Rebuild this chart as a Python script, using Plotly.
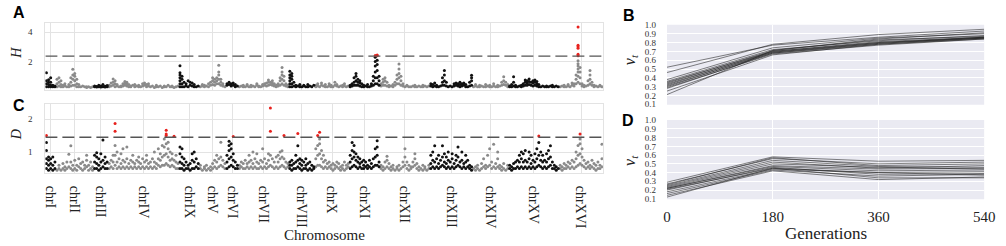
import plotly.graph_objects as go

# ---------------- data ----------------
CHROMS = ["chrI", "chrII", "chrIII", "chrIV", "chrIX", "chrV", "chrVI", "chrVII",
          "chrVIII", "chrX", "chrXI", "chrXII", "chrXIII", "chrXIV", "chrXV", "chrXVI"]
CHROM_LEN_KB = [230, 813, 317, 1532, 440, 577, 270, 1091, 563, 745, 667, 1078, 924, 784, 1091, 948]
H_THRESHOLD = 2.37
D_THRESHOLD = 1.45

# H statistic: per chromosome, columns of values along the chromosome
H_I = [[0.3, 0.5, 0.7, 1.25], [0.3, 0.45, 0.6, 0.77], [0.3, 0.4, 0.6, 0.9], [0.3, 0.4], [0.3, 0.35]]
H_II = [[0.3, 0.5, 0.8], [0.35, 0.6, 0.9], [0.3, 0.45, 0.7], [0.3, 0.4], [0.35, 0.5], [0.3], [0.3, 0.45],
        [0.35, 0.6, 0.9], [0.4, 0.8, 1.1, 1.48], [0.4, 0.7, 1.0, 1.2], [0.3, 0.5, 0.8], [0.3, 0.45], [0.3],
        [0.35], [0.3], [0.25, 0.3], [0.3], [0.25], [0.3]]
H_III = [[0.3, 0.35], [0.28, 0.32], [0.3, 0.4], [0.28, 0.35], [0.3, 0.45], [0.28, 0.33], [0.3, 0.38]]
H_IV = [[0.3, 0.4], [0.35, 0.55], [0.4, 0.6, 0.82], [0.3, 0.5, 0.7], [0.35, 0.45], [0.3], [0.3, 0.35],
        [0.35, 0.5], [0.4, 0.55, 0.65], [0.35, 0.5, 0.6], [0.3, 0.45], [0.3, 0.35], [0.4], [0.3, 0.45],
        [0.35], [0.3, 0.4], [0.3], [0.35, 0.5], [0.4, 0.55], [0.3, 0.45], [0.35, 0.5], [0.3], [0.35],
        [0.25], [0.3, 0.4], [0.3], [0.35], [0.25], [0.3, 0.35], [0.3], [0.4], [0.3], [0.3, 0.35], [0.25],
        [0.3], [0.35]]
H_IX = [[0.3, 0.5, 0.7, 0.9, 1.1, 1.25, 1.72], [0.3, 0.5, 0.8, 1.0], [0.3, 0.6], [0.35, 0.5], [0.3, 0.7],
        [0.4, 0.6], [0.35, 0.55], [0.3, 0.45], [0.3], [0.35]]
H_V = [[0.3], [0.35, 0.45], [0.3, 0.4], [0.35], [0.3, 0.5], [0.4, 0.6], [0.45, 0.7, 0.9], [0.4, 0.6, 0.8],
       [0.5, 0.7, 0.9], [0.5, 0.8, 1.1, 1.3, 1.75], [0.4, 0.6, 0.8], [0.35, 0.5], [0.3]]
H_VI = [[0.4, 0.5], [0.45, 0.6], [0.35, 0.5], [0.4, 0.55], [0.3, 0.45], [0.35]]
H_VII = [[0.3], [0.35], [0.3, 0.4], [0.3], [0.35, 0.45], [0.3], [0.3, 0.4], [0.35], [0.3], [0.4, 0.5],
         [0.3, 0.35], [0.3], [0.35, 0.45], [0.4, 0.5], [0.35, 0.55], [0.4, 0.6, 0.75], [0.45, 0.6],
         [0.4, 0.55, 0.7], [0.35, 0.5], [0.3, 0.4], [0.35, 0.5], [0.4, 0.7, 0.9], [0.5, 0.8, 1.1, 1.3, 1.6],
         [0.4, 0.7, 1.0], [0.35, 0.5], [0.3, 0.4]]
H_VIII = [[0.3, 0.5, 0.7, 0.9, 1.1, 1.35], [0.3, 0.5, 0.8, 1.0, 1.2], [0.35, 0.6], [0.3, 0.4], [0.35],
          [0.3, 0.45], [0.3], [0.35, 0.4], [0.3], [0.3, 0.45], [0.35], [0.3], [0.4]]
H_X = [[0.3, 0.4], [0.35, 0.5], [0.3], [0.4, 0.55], [0.35], [0.3, 0.45], [0.3], [0.35, 0.5], [0.3, 0.4],
       [0.3], [0.4, 0.6], [0.35, 0.45], [0.3], [0.35], [0.3, 0.4], [0.35, 0.5], [0.3], [0.35]]
H_XI = [[0.3, 0.4], [0.35, 0.5], [0.4, 0.6, 0.9], [0.4, 0.7, 1.0, 1.2], [0.4, 0.6, 0.8], [0.35, 0.55, 0.7],
        [0.3, 0.5], [0.3, 0.4], [0.35], [0.3, 0.45], [0.3], [0.35, 0.5], [0.4, 0.7, 1.0],
        [0.5, 0.9, 1.3, 1.7, 2.0, 2.3, 2.42], [0.5, 0.9, 1.4, 1.8, 2.1, 2.4, 2.45], [0.4, 0.7, 1.0]]
H_XII = [[0.35, 0.5], [0.4, 0.6, 0.8], [0.4, 0.7, 0.9], [0.35, 0.6], [0.3, 0.4], [0.35], [0.3, 0.45],
         [0.4, 0.6], [0.5, 0.8, 1.1], [0.5, 0.9, 1.2, 1.5, 1.83], [0.4, 0.7, 1.0], [0.35, 0.5], [0.3],
         [0.35, 0.4], [0.3], [0.3], [0.35], [0.3, 0.4], [0.3], [0.35], [0.3], [0.3, 0.4], [0.35], [0.3],
         [0.35]]
H_XIII = [[0.35, 0.5], [0.3, 0.45], [0.35, 0.55], [0.3, 0.4], [0.3], [0.35], [0.4, 0.6, 0.9],
          [0.4, 0.7, 1.1, 1.4], [0.35, 0.6], [0.3], [0.35], [0.3], [0.35, 0.5], [0.4, 0.55], [0.35, 0.5],
          [0.3, 0.45, 0.6], [0.35, 0.5], [0.4, 0.55], [0.3, 0.45], [0.3], [0.35, 0.6], [0.4, 0.7, 0.9, 1.08]]
H_XIV = [[0.3], [0.35, 0.45], [0.3], [0.3, 0.4], [0.35], [0.3], [0.3, 0.45], [0.35], [0.3, 0.4], [0.3],
         [0.35, 0.5], [0.3], [0.3, 0.4], [0.35], [0.4, 0.6], [0.45, 0.7, 0.97], [0.4, 0.6], [0.3, 0.45]]
H_XV = [[0.3, 0.35], [0.3, 0.45], [0.35, 0.6, 0.97], [0.3, 0.4], [0.3], [0.35], [0.3, 0.4], [0.35, 0.5],
        [0.4, 0.6, 0.75], [0.4, 0.55, 0.7], [0.45, 0.65, 0.82], [0.4, 0.6], [0.35, 0.55, 0.7],
        [0.4, 0.6, 0.75], [0.35, 0.5, 0.65], [0.3, 0.45], [0.3], [0.35], [0.3], [0.3, 0.35], [0.3], [0.35],
        [0.3, 0.4], [0.3], [0.35], [0.3]]
H_XVI = [[0.3], [0.35], [0.3, 0.4], [0.3], [0.35, 0.45], [0.3], [0.4, 0.55], [0.35, 0.5], [0.5, 0.8, 1.1],
         [0.6, 1.0, 1.3, 1.5, 1.7, 1.85, 2.05, 2.4, 2.5, 2.9, 3.0, 3.1, 4.35], [0.5, 0.9, 1.3, 1.6],
         [0.35, 0.5], [0.3, 0.4], [0.35], [0.4, 0.7], [0.5, 0.8, 1.1, 1.4], [0.4, 0.6], [0.3, 0.4], [0.35],
         [0.3], [0.35, 0.4], [0.3]]

# D statistic
D_I = [[0.5, 0.65, 0.8, 1.05, 1.29, 1.5], [0.45, 0.6, 0.75, 0.85], [0.5, 0.65, 0.8], [0.45, 0.6, 0.85],
       [0.5, 0.7]]
D_II = [[0.45], [0.5, 0.6], [0.45], [0.5, 0.65], [0.45, 0.55], [0.5, 0.7], [0.55, 0.93], [0.5, 0.7, 1.19],
        [0.45, 0.6], [0.5, 0.75], [0.45, 0.6], [0.55, 0.8], [0.5, 0.65], [0.45, 0.7], [0.5, 0.6],
        [0.55, 0.75, 0.9], [0.45, 0.6], [0.5, 0.7], [0.45, 0.55]]
D_III = [[0.5, 0.7, 0.9], [0.5, 0.65, 0.85, 0.98], [0.45, 0.6, 0.8], [0.5, 0.7, 0.95], [0.55, 0.75, 1.37],
         [0.5, 0.65, 0.85], [0.5, 0.7]]
D_IV = [[0.5, 0.65], [0.55, 0.75], [0.5, 0.7, 0.9], [0.6, 0.9, 1.2, 1.63, 1.87], [0.5, 0.7, 1.0], [0.55, 0.8],
        [0.5, 0.65, 0.95], [0.55, 0.75, 1.1], [0.5, 0.7], [0.55, 0.8, 1.15], [0.5, 0.65], [0.55, 0.75],
        [0.5, 0.7, 0.9], [0.55, 0.65], [0.5, 0.75], [0.55, 0.7, 0.85], [0.5, 0.65], [0.55, 0.8], [0.5, 0.7],
        [0.55, 0.75, 0.9], [0.5, 0.65], [0.55, 0.7], [0.5, 0.8], [0.55, 0.7, 1.0], [0.5, 0.65],
        [0.6, 0.8, 1.1], [0.55, 0.75, 0.95], [0.6, 0.85, 1.2], [0.6, 0.9, 1.15, 1.4],
        [0.65, 0.95, 1.25, 1.5, 1.55, 1.66], [0.6, 0.85, 1.1, 1.3], [0.55, 0.75, 1.0], [0.6, 0.8, 0.95],
        [0.55, 0.75, 1.48], [0.5, 0.7, 0.9], [0.5, 0.65]]
D_IX = [[0.5, 0.7, 0.95, 1.15], [0.5, 0.65, 0.85, 1.1], [0.45, 0.6, 0.8], [0.5, 0.7], [0.5, 0.6], [0.45, 0.65],
        [0.5, 0.75, 0.95], [0.5, 0.7, 1.0], [0.55, 0.8], [0.5, 0.65]]
D_V = [[0.5, 0.6], [0.45], [0.5, 0.55], [0.45, 0.6], [0.5], [0.45, 0.55], [0.5, 0.65], [0.55, 0.75],
       [0.5, 0.7, 0.9], [0.55, 0.8], [0.6, 0.85, 1.3], [0.55, 0.75], [0.5, 0.65]]
D_VI = [[0.5, 0.7, 0.9], [0.55, 0.8, 1.05, 1.2, 1.33], [0.6, 0.85, 1.1, 1.25], [0.55, 0.75, 0.95, 1.47],
        [0.5, 0.7], [0.5, 0.6]]
D_VII = [[0.5, 0.6], [0.55, 0.7], [0.5, 0.65], [0.5, 0.75], [0.55, 0.65], [0.5, 0.7, 0.9], [0.55, 0.75],
         [0.5, 0.65, 1.0], [0.55, 0.8], [0.5, 0.7, 0.95], [0.5, 0.65], [0.55, 0.75], [0.5, 0.7, 1.1],
         [0.55, 0.8], [0.5, 0.65], [0.55, 0.75, 0.95], [0.6, 0.9, 1.63, 2.34], [0.55, 0.8], [0.5, 0.7],
         [0.55, 0.85], [0.5, 0.7, 0.9], [0.55, 0.8, 1.0], [0.6, 0.85, 1.04], [0.55, 0.8, 1.5], [0.5, 0.7],
         [0.55, 0.65]]
D_VIII = [[0.5, 0.6, 0.7], [0.45, 0.6, 0.75], [0.5, 0.65], [0.5, 0.7, 0.9], [0.55, 0.75, 1.19, 1.56],
          [0.5, 0.65, 0.8], [0.45, 0.6, 0.75], [0.5, 0.7], [0.5, 0.6, 0.8], [0.45, 0.65], [0.5, 0.7],
          [0.45, 0.6], [0.5, 0.55]]
D_X = [[0.55, 0.8, 1.1], [0.6, 0.9, 1.2, 1.5], [0.6, 0.95, 1.25, 1.4, 1.6], [0.55, 0.8, 1.05],
       [0.5, 0.7, 0.9], [0.55, 0.75], [0.5, 0.65], [0.55, 0.7], [0.5, 0.6], [0.45, 0.65], [0.5, 0.6],
       [0.55, 0.7], [0.5, 0.65], [0.45, 0.55], [0.5, 0.6], [0.45, 0.7], [0.5, 0.6], [0.55, 0.65]]
D_XI = [[0.5, 0.7, 0.9], [0.55, 0.8, 1.05, 1.29], [0.6, 0.85, 1.0, 1.2], [0.55, 0.75, 0.95], [0.5, 0.7, 0.85],
        [0.55, 0.65, 0.8], [0.5, 0.7], [0.5, 0.6, 0.75], [0.55, 0.7], [0.5, 0.6], [0.55, 0.75], [0.5, 0.65],
        [0.55, 0.8], [0.6, 0.85, 1.1], [0.6, 0.9, 1.15, 1.34], [0.55, 0.7]]
D_XII = [[0.5, 0.6], [0.45, 0.55], [0.5, 0.7], [0.55, 0.75, 0.87], [0.5, 0.65], [0.45, 0.55], [0.5, 0.6],
         [0.45], [0.5, 0.55], [0.45, 0.6], [0.5], [0.55, 0.7], [0.6, 0.85, 1.1], [0.5, 0.7], [0.45, 0.6],
         [0.5, 0.55], [0.55, 0.7], [0.6, 0.8, 0.95], [0.5, 0.65], [0.45, 0.55], [0.5], [0.45, 0.6],
         [0.5, 0.55], [0.45], [0.5, 0.6]]
D_XIII = [[0.5, 0.65, 0.9], [0.55, 0.75, 1.0], [0.5, 0.7, 1.19], [0.55, 0.8], [0.5, 0.65, 0.9], [0.55, 0.75],
          [0.6, 0.85, 1.19], [0.55, 0.7, 0.95], [0.5, 0.65, 0.85], [0.55, 0.75, 1.0], [0.5, 0.7],
          [0.55, 0.8, 0.95], [0.5, 0.65], [0.55, 0.75, 0.9], [0.6, 0.85, 1.15], [0.55, 0.7], [0.5, 0.75, 1.0],
          [0.55, 0.65], [0.5, 0.7, 0.9], [0.55, 0.75], [0.5, 0.6], [0.45, 0.55]]
D_XIV = [[0.5], [0.45, 0.55], [0.5, 0.6], [0.45], [0.5, 0.65], [0.55, 0.8], [0.5, 0.6], [0.55, 0.9],
         [0.6, 1.1], [0.5, 0.7], [0.55, 1.24], [0.5, 0.65], [0.55, 0.8, 1.0], [0.5, 0.6], [0.45, 0.55],
         [0.5, 0.65], [0.45], [0.5, 0.6]]
D_XV = [[0.5, 0.6], [0.45, 0.55], [0.5, 0.65], [0.5, 0.7], [0.55, 0.75], [0.5, 0.7, 0.9], [0.55, 0.8, 1.0],
        [0.5, 0.7, 0.95], [0.55, 0.75, 1.05], [0.5, 0.7], [0.55, 0.8, 1.0], [0.5, 0.65, 0.9], [0.55, 0.75],
        [0.5, 0.7, 0.95], [0.55, 0.8, 1.1], [0.6, 0.9, 1.29, 1.49], [0.55, 0.75, 1.0], [0.5, 0.7, 0.9],
        [0.55, 0.75], [0.5, 0.7, 0.95], [0.55, 0.8, 1.05], [0.6, 0.85, 1.19], [0.5, 0.7], [0.5, 0.6],
        [0.45, 0.55], [0.5]]
D_XVI = [[0.5, 0.6], [0.45, 0.55], [0.5, 0.65], [0.5, 0.6], [0.55, 0.7], [0.5, 0.65], [0.55, 0.75], [0.5, 0.7],
         [0.55, 0.8, 1.0], [0.6, 0.9, 1.2], [0.65, 0.95, 1.25, 1.4, 1.55], [0.6, 0.85, 1.1], [0.55, 0.75],
         [0.5, 0.65], [0.55, 0.7], [0.5, 0.6], [0.55, 0.75], [0.5, 0.65], [0.45, 0.6], [0.5, 0.7], [0.5, 0.6],
         [0.55, 0.8, 1.24]]

H_DATA = [H_I, H_II, H_III, H_IV, H_IX, H_V, H_VI, H_VII, H_VIII, H_X, H_XI, H_XII, H_XIII, H_XIV, H_XV, H_XVI]
D_DATA = [D_I, D_II, D_III, D_IV, D_IX, D_V, D_VI, D_VII, D_VIII, D_X, D_XI, D_XII, D_XIII, D_XIV, D_XV, D_XVI]

GENERATIONS = [0, 180, 360, 540]
NU_B = [[0.52, 0.77, 0.86, 0.93], [0.46, 0.78, 0.89, 0.95], [0.38, 0.74, 0.85, 0.90],
        [0.36, 0.72, 0.82, 0.88], [0.35, 0.70, 0.80, 0.86], [0.34, 0.71, 0.83, 0.87],
        [0.33, 0.69, 0.79, 0.85], [0.32, 0.70, 0.81, 0.86], [0.31, 0.68, 0.78, 0.84],
        [0.30, 0.69, 0.80, 0.85], [0.29, 0.67, 0.77, 0.84], [0.28, 0.68, 0.79, 0.86],
        [0.25, 0.66, 0.78, 0.85], [0.21, 0.71, 0.84, 0.91]]
NU_D = [[0.29, 0.58, 0.53, 0.54], [0.27, 0.56, 0.50, 0.52], [0.26, 0.57, 0.48, 0.50],
        [0.25, 0.54, 0.47, 0.46], [0.24, 0.52, 0.45, 0.48], [0.23, 0.50, 0.46, 0.44],
        [0.22, 0.48, 0.44, 0.45], [0.22, 0.47, 0.42, 0.43], [0.21, 0.45, 0.40, 0.41],
        [0.20, 0.46, 0.38, 0.39], [0.18, 0.44, 0.40, 0.37], [0.16, 0.43, 0.36, 0.38],
        [0.14, 0.42, 0.32, 0.35], [0.12, 0.45, 0.34, 0.34]]

# ---------------- figure ----------------
W, H = 1006, 246
SERIF = "Liberation Serif"
SANS = "Liberation Sans"
BLACK, GRAY, RED = "#111111", "#8a8a8a", "#e8211d"

starts, mids = [], []
acc = 0
for L in CHROM_LEN_KB:
    starts.append(acc)
    mids.append(acc + L / 2)
    acc += L
TOTAL = acc

fig = go.Figure()


def manhattan(data, thr, xa, ya):
    pts = {BLACK: ([], []), GRAY: ([], []), RED: ([], [])}
    for ci, cols in enumerate(data):
        base = BLACK if ci % 2 == 0 else GRAY
        step = CHROM_LEN_KB[ci] / len(cols)
        for j, col in enumerate(cols):
            xpos = starts[ci] + (j + 0.5) * step
            for v in col:
                c = RED if v > thr else base
                pts[c][0].append(xpos)
                pts[c][1].append(v)
    for c in (GRAY, BLACK, RED):
        fig.add_trace(go.Scatter(x=pts[c][0], y=pts[c][1], mode="markers", xaxis=xa, yaxis=ya,
                                 marker=dict(color=c, size=3.0, line=dict(width=0)),
                                 showlegend=False, hoverinfo="skip"))


manhattan(H_DATA, H_THRESHOLD, "x", "y")
manhattan(D_DATA, D_THRESHOLD, "x2", "y2")

for series, xa, ya in ((NU_B, "x3", "y3"), (NU_D, "x4", "y4")):
    for s in series:
        fig.add_trace(go.Scatter(x=GENERATIONS, y=s, mode="lines", xaxis=xa, yaxis=ya,
                                 line=dict(color="rgba(30,30,30,0.55)", width=1),
                                 showlegend=False, hoverinfo="skip"))


def px_x(p):
    return p / W


def px_y(p):
    return 1 - p / H


man_x = [px_x(42), px_x(608)]
grid_c = "#e3e3e3"
common_man_x = dict(range=[0, TOTAL], domain=man_x, tickvals=mids, ticktext=CHROMS, showgrid=True,
                    gridcolor=grid_c, gridwidth=1, zeroline=False, showline=True, mirror=True,
                    linecolor=grid_c, ticks="")
common_man_y = dict(showgrid=True, gridcolor=grid_c, zeroline=False, showline=True, mirror=True,
                    linecolor=grid_c, ticks="", tickfont=dict(family=SERIF, size=9, color="#333"),
                    ticklabelstandoff=10)

gen_x = [px_x(673), px_x(995)]
common_gen_x = dict(range=[0, 540], domain=gen_x, tickvals=GENERATIONS, showgrid=True, gridcolor="white",
                    gridwidth=1.2, zeroline=False, showline=False, ticks="", ticklabeloverflow="allow")
common_gen_y = dict(range=[0.095, 1.0], tickvals=[0.1, 0.2, 0.3, 0.4, 0.5, 0.6, 0.7, 0.8, 0.9, 1.0],
                    ticktext=["0.1", "0.2", "0.3", "0.4", "0.5", "0.6", "0.7", "0.8", "0.9", "1.0"],
                    showgrid=True, gridcolor="white", gridwidth=1.2, zeroline=False, showline=False,
                    ticks="", tickfont=dict(family=SERIF, size=9, color="#333"), ticklabelstandoff=10,
                    ticklabeloverflow="allow")

fig.update_layout(
    width=W, height=H, autosize=False, margin=dict(l=0, r=0, t=0, b=0),
    paper_bgcolor="white", plot_bgcolor="white", showlegend=False,
    font=dict(family=SERIF, color="#222"),
    xaxis=dict(common_man_x, anchor="y", showticklabels=False),
    yaxis=dict(common_man_y, anchor="x", domain=[px_y(89), px_y(19)], range=[0.05, 4.6], tickvals=[2, 4]),
    xaxis2=dict(common_man_x, anchor="y2", showticklabels=True, tickangle=90,
                tickfont=dict(family=SERIF, size=14, color="#222"), ticklabelstandoff=9),
    yaxis2=dict(common_man_y, anchor="x2", domain=[px_y(175), px_y(103)], range=[0.367, 2.466],
                tickvals=[1, 2]),
    xaxis3=dict(common_gen_x, anchor="y3", showticklabels=False),
    yaxis3=dict(common_gen_y, anchor="x3", domain=[px_y(104), px_y(20.7)]),
    xaxis4=dict(common_gen_x, anchor="y4", showticklabels=True,
                tickfont=dict(family=SERIF, size=15, color="#222"), ticklabelstandoff=7),
    yaxis4=dict(common_gen_y, anchor="x4", domain=[px_y(202.5), px_y(120)]),
)

# backgrounds of the generation panels
for ax in ("x3", "x4"):
    yax = "y3" if ax == "x3" else "y4"
    fig.add_shape(type="rect", xref=f"{ax} domain", yref=f"{yax} domain", x0=0, x1=1, y0=0, y1=1,
                  fillcolor="#EAEAF2", line=dict(width=0), layer="below")

# threshold lines
for thr, xa, ya in ((H_THRESHOLD, "x", "y"), (D_THRESHOLD, "x2", "y2")):
    fig.add_shape(type="line", xref=xa, yref=ya, x0=0, x1=TOTAL, y0=thr, y1=thr,
                  line=dict(color="#555555", width=1.4, dash="12px,5px"), layer="above")

ann = []
for txt, x, y in (("A", 7, 8), ("C", 7, 105), ("B", 626, 11), ("D", 625, 120)):
    ann.append(dict(text=f"<b>{txt}</b>", x=px_x(x), y=px_y(y), xref="paper", yref="paper",
                    xanchor="left", yanchor="middle", showarrow=False,
                    font=dict(family=SANS, size=16, color="black")))
for txt, x, y in (("<i>H</i>", 13, 50), ("<i>D</i>", 13, 135)):
    ann.append(dict(text=txt, x=px_x(x), y=px_y(y), xref="paper", yref="paper", textangle=-90,
                    xanchor="center", yanchor="middle", showarrow=False,
                    font=dict(family=SERIF, size=14, color="#222")))
for y in (57, 162):
    ann.append(dict(text="<i>ν</i><sub><i>t</i></sub>", x=px_x(636), y=px_y(y), xref="paper", yref="paper",
                    textangle=-90, xanchor="center", yanchor="middle", showarrow=False,
                    font=dict(family=SERIF, size=16, color="#222")))
ann.append(dict(text="Chromosome", x=px_x(325), y=px_y(240), xref="paper", yref="paper",
                xanchor="center", yanchor="middle", showarrow=False,
                font=dict(family=SERIF, size=15, color="#222")))
ann.append(dict(text="Generations", x=px_x(834), y=px_y(238), xref="paper", yref="paper",
                xanchor="center", yanchor="middle", showarrow=False,
                font=dict(family=SERIF, size=17, color="#222")))
fig.update_layout(annotations=ann)

fig.write_html("out.html")
